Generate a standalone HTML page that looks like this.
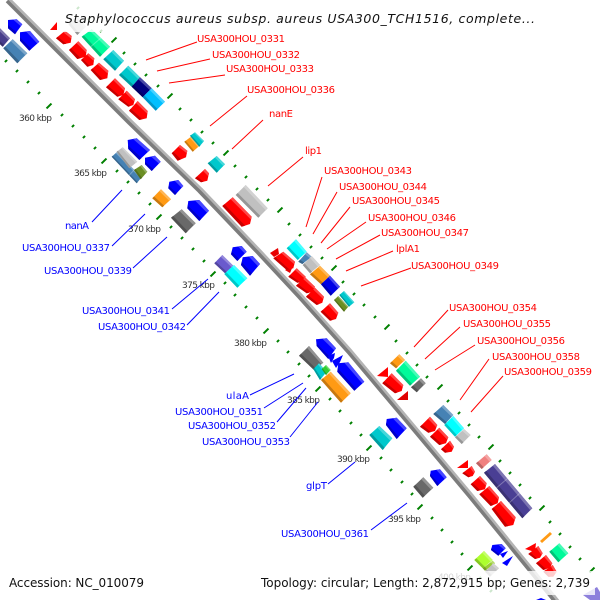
<!DOCTYPE html>
<html><head><meta charset="utf-8"><title>Staphylococcus aureus map</title>
<style>
html,body{margin:0;padding:0;background:#fff}
svg{display:block}
.l{font-family:"DejaVu Sans","Liberation Sans",sans-serif;font-size:10px}
.r{fill:#f00}.b{fill:#00f}
.k{font-family:"DejaVu Sans","Liberation Sans",sans-serif;font-size:9px;fill:#333}
.t{font-family:"DejaVu Sans","Liberation Sans",sans-serif;font-size:12px;fill:#111}
</style></head><body>
<svg id="s" xmlns="http://www.w3.org/2000/svg" width="600" height="600" viewBox="0 0 600 600">
<rect width="600" height="600" fill="#fff"/>
<g fill="none" stroke-linejoin="round">
<polyline points="8,0 70,62 130,122 200,190 260,253 300,296 350,352 403,415 470,495 553,597 565,612" stroke="#b4b4b4" stroke-width="6"/>
<polyline points="7,1 69,63 129,123 199,191 259,254 299,297 349,353 402,416 469,496 552,598 564,613" stroke="#7c7c7c" stroke-width="3.5"/>
</g>
<g id="ticks"></g>
<g id="genes"></g>
<g class="k">
<text x="19" y="121" textLength="33">360 kbp</text>
<text x="74" y="176" textLength="33">365 kbp</text>
<text x="128" y="232" textLength="33">370 kbp</text>
<text x="182" y="288" textLength="33">375 kbp</text>
<text x="234" y="346" textLength="33">380 kbp</text>
<text x="287" y="403" textLength="33">385 kbp</text>
<text x="337" y="462" textLength="33">390 kbp</text>
<text x="388" y="522" textLength="33">395 kbp</text>
<text x="438" y="580" textLength="33">400 kbp</text>
</g>
<g stroke="#f00" stroke-width="1" fill="none">
<path d="M146 60L197 42M157 71L210 59M169 83L225 75M210 126L247 96M232 149L263 120M268 186L303 157M306 227L322 177M313 234L337 192M321 243L350 207M327 249L366 222M336 259L380 235M346 271L393 251M361 286L411 268M414 347L448 310M425 359L460 327M435 370L475 345M460 400L489 359M471 412L503 376"/>
</g>
<g stroke="#00f" stroke-width="1" fill="none">
<path d="M122 190L92 222M145 214L112 246M167 237L133 268M208 279L172 309M219 292L187 325M294 374L250 395M303 383L264 408M306 388L277 422M318 402L290 437M355 462L328 484M407 503L371 530"/>
</g>
<rect x="60" y="5" width="480" height="27" fill="#fff" fill-opacity=".8"/>
<rect x="5" y="572" width="145" height="22" fill="#fff" fill-opacity=".8"/>
<rect x="257" y="571" width="338" height="24" fill="#fff" fill-opacity=".8"/>
<text class="t" x="65" y="23" font-style="italic" style="font-size:12.5px" textLength="470">Staphylococcus aureus subsp. aureus USA300_TCH1516, complete...</text>
<text class="t" x="9" y="587" textLength="135">Accession: NC_010079</text>
<text class="t" x="261" y="587" textLength="329">Topology: circular; Length: 2,872,915 bp; Genes: 2,739</text>
<g class="l r">
<text x="197" y="42" textLength="88">USA300HOU_0331</text>
<text x="212" y="58" textLength="88">USA300HOU_0332</text>
<text x="226" y="72" textLength="88">USA300HOU_0333</text>
<text x="247" y="93" textLength="88">USA300HOU_0336</text>
<text x="269" y="117" textLength="24">nanE</text>
<text x="305" y="154" textLength="17">lip1</text>
<text x="324" y="174" textLength="88">USA300HOU_0343</text>
<text x="339" y="190" textLength="88">USA300HOU_0344</text>
<text x="352" y="204" textLength="88">USA300HOU_0345</text>
<text x="368" y="221" textLength="88">USA300HOU_0346</text>
<text x="381" y="236" textLength="88">USA300HOU_0347</text>
<text x="396" y="252" textLength="24">lplA1</text>
<text x="411" y="269" textLength="88">USA300HOU_0349</text>
<text x="449" y="311" textLength="88">USA300HOU_0354</text>
<text x="463" y="327" textLength="88">USA300HOU_0355</text>
<text x="477" y="344" textLength="88">USA300HOU_0356</text>
<text x="492" y="360" textLength="88">USA300HOU_0358</text>
<text x="504" y="375" textLength="88">USA300HOU_0359</text>
</g>
<g class="l b">
<text x="65" y="229" textLength="24">nanA</text>
<text x="22" y="251" textLength="88">USA300HOU_0337</text>
<text x="44" y="274" textLength="88">USA300HOU_0339</text>
<text x="82" y="314" textLength="88">USA300HOU_0341</text>
<text x="98" y="330" textLength="88">USA300HOU_0342</text>
<text x="226" y="399" textLength="23">ulaA</text>
<text x="175" y="415" textLength="88">USA300HOU_0351</text>
<text x="188" y="429" textLength="88">USA300HOU_0352</text>
<text x="202" y="445" textLength="88">USA300HOU_0353</text>
<text x="306" y="489" textLength="21">glpT</text>
<text x="281" y="537" textLength="88">USA300HOU_0361</text>
</g>
</svg>
<script>
var NS="http://www.w3.org/2000/svg",gg=document.getElementById("genes"),tt=document.getElementById("ticks");
function hex(c){return[parseInt(c.substr(1,2),16),parseInt(c.substr(3,2),16),parseInt(c.substr(5,2),16)]}
function mix(c,m,a){var p=hex(c);return"rgb("+p.map(function(v){return Math.round(v+(m-v)*a)}).join(",")+")"}
function poly(pts,f,par){var e=document.createElementNS(NS,"polygon");e.setAttribute("points",pts.map(function(p){return p[0].toFixed(1)+","+p[1].toFixed(1)}).join(" "));e.setAttribute("fill",f);(par||gg).appendChild(e)}
function lerp(a,b,t){return[a[0]+(b[0]-a[0])*t,a[1]+(b[1]-a[1])*t]}
function pts(ox,oy,v){var r=[];for(var i=0;i<v.length;i+=2)r.push([ox+v[i]/3,oy+v[i+1]/3]);return r}
var K=.2;
/* arrow: tail SW, tail NE, shoulder NE, tip, shoulder SW */
function A(ox,oy,c,v){var p=pts(ox,oy,v);
poly(p,c);
poly([p[1],p[2],lerp(p[2],p[3],.4),lerp(p[1],p[0],K)],mix(c,255,.28));
poly([p[0],p[4],lerp(p[4],p[3],.4),lerp(p[0],p[1],K)],mix(c,0,.22));}
/* box: start SW, start NE, end NE, end SW */
function Q(ox,oy,c,v,splits){var p=pts(ox,oy,v);
poly(p,c);
poly([p[1],p[2],lerp(p[2],p[3],K),lerp(p[1],p[0],K)],mix(c,255,.28));
poly([p[0],p[3],lerp(p[3],p[2],K),lerp(p[0],p[1],K)],mix(c,0,.22));
(splits||[]).forEach(function(f){var a=lerp(p[0],p[3],f),b=lerp(p[1],p[2],f);
var e=document.createElementNS(NS,"line");e.setAttribute("x1",a[0]);e.setAttribute("y1",a[1]);e.setAttribute("x2",b[0]);e.setAttribute("y2",b[1]);e.setAttribute("stroke","rgba(255,255,255,.3)");gg.appendChild(e)});}
var R="#ff0000",B="#0000ff",DT="#00c8cc",O="#ff9a14",SG="#00fa9a",GR="#696969",LG="#c0c0c0",SB="#4682b4",DS="#4a3f94",CY="#00ffff",OL="#6b8e23",SL="#6a5acd";
/* triangles go underneath so neighbouring arrows stay readable */
[
[[50,30],[57,22],[57,30],"#f00"],
[[270,253],[278,248],[279,254],[274,257],"#e80000"],
[[285,270],[293,266],[290,273],"#e80000"],
[[377,376],[388,367],[388,377],"#f00"],
[[397,400],[408,391],[408,400],"#e00000"],
[[457,468],[468,460],[468,468],"#f00"],
[[525,549],[536,543],[535,552],"#f00"],
[[540,541],[550,532],[552,534],[542,543],O],
[[500,554],[508,551],[503,558],B],
[[502,563],[513,556],[507,566],B],
[[536,600],[541,598],[546,600],B],
[[583,595],[597,587],[600,592],[600,600],[590,600],"#8d80dc"]
].forEach(function(a){poly(a.slice(0,-1),a[a.length-1])});
/* zoom region 1 */
Q(0,0,"#483d8b",[-25,110,0,85,30,115,8,140]);
A(0,0,B,[45,103,67,73,50,58,24,60,24,85]);
A(0,0,B,[88,152,118,125,90,93,60,97,60,122]);
Q(0,0,SB,[10,145,38,118,82,160,52,190]);
Q(0,0,LG,[205,72,232,45,258,80,232,105]);
[[168,115,195,92,215,108,212,128,190,133],[207,150,235,124,260,150,257,170,232,177],[243,180,265,160,283,175,280,195,262,200],[272,210,297,188,325,212,322,235,300,240],[318,262,345,235,375,265,370,285,352,290],[355,298,380,272,405,298,400,315,385,320],[387,332,413,303,443,333,440,355,418,360]].forEach(function(v){A(0,0,R,v)});
Q(0,0,SG,[245,110,275,88,330,140,300,170],[.5]);
Q(0,0,DT,[310,178,340,150,372,182,345,212]);
Q(0,0,DT,[357,225,385,197,420,232,395,260]);
Q(0,0,"#000080",[395,260,420,232,455,265,428,292]);
Q(0,0,"#00bfff",[428,292,455,265,495,305,467,332]);
A(0,0,B,[418,480,450,450,410,415,383,420,385,447]);
/* zoom region 2 */
var x=100,y=120;
Q(x,y,SB,[35,110,50,97,125,172,110,190],[.7]);
Q(x,y,LG,[50,95,68,82,112,125,88,145]);
Q(x,y,OL,[102,150,125,135,142,155,122,178]);
A(x,y,B,[155,153,182,125,165,107,135,113,135,133]);
A(x,y,R,[215,100,240,75,262,92,258,112,233,122]);
Q(x,y,O,[253,65,273,50,298,78,278,95]);
Q(x,y,DT,[270,47,285,37,312,63,298,80]);
A(x,y,R,[285,175,315,147,327,160,322,182,303,187]);
Q(x,y,DT,[323,130,350,108,375,133,350,158]);
A(x,y,R,[367,258,398,232,455,290,450,312,425,320]);
Q(x,y,LG,[407,225,437,195,503,265,475,293]);
Q(x,y,O,[157,235,183,208,213,238,187,262]);
A(x,y,B,[225,225,250,198,235,180,208,185,205,205]);
Q(x,y,GR,[213,293,245,268,287,310,257,340]);
A(x,y,B,[298,303,327,272,298,240,265,243,262,265]);
Q(x,y,SL,[343,430,367,405,400,437,375,460]);
A(x,y,B,[412,423,440,395,425,378,398,382,393,403]);
Q(x,y,CY,[373,462,402,435,442,475,412,503]);
A(x,y,B,[450,467,480,432,458,408,428,412,423,435]);
/* zoom region 3 */
x=260;y=220;
[[40,115,70,95,105,125,100,145,80,150],[85,170,110,145,137,170,132,185,112,188],[108,197,135,172,165,200,158,215,140,220],[138,230,165,203,192,230,187,248,170,255],[182,275,210,250,235,278,228,297,210,302],[367,490,395,460,430,495,425,513,405,520]].forEach(function(v){A(x,y,R,v)});
Q(x,y,CY,[80,85,108,58,140,95,113,120]);
Q(x,y,SB,[115,125,140,97,155,110,127,132]);
Q(x,y,LG,[128,135,155,108,180,135,150,160]);
Q(x,y,O,[150,163,180,137,210,167,183,193]);
Q(x,y,"#0000e6",[183,193,210,167,240,200,212,227]);
Q(x,y,OL,[222,240,235,228,265,260,252,275]);
Q(x,y,DT,[238,225,252,213,283,247,267,260]);
Q(x,y,GR,[117,407,147,378,190,428,162,450]);
Q(x,y,DT,[160,447,177,430,200,455,180,480]);
Q(x,y,O,[183,480,212,455,272,520,243,548]);
Q(x,y,"#32cd32",[185,447,198,435,212,450,198,465]);
A(x,y,B,[283,512,313,485,265,427,235,430,232,455]);
A(x,y,B,[205,417,228,385,200,355,168,358,170,378]);
poly([[328,356],[335,353],[334,358],[331,363]],B);
poly([[332,361],[343,355],[340,362],[336,368]],B);
Q(x,y,O,[390,430,418,403,435,420,408,445]);
Q(x,y,SG,[408,452,437,422,480,470,450,497]);
Q(x,y,GR,[453,502,483,475,497,490,470,517]);
/* zoom region 4 */
Q(290,330,DT,[238,315,268,288,307,325,278,360]);
A(290,330,B,[320,327,350,295,320,263,290,267,288,285]);
/* zoom region 5 */
x=400;y=400;
Q(x,y,SB,[100,42,130,15,160,45,135,72]);
Q(x,y,CY,[133,75,160,48,192,85,165,110]);
Q(x,y,LG,[165,112,192,87,212,105,185,132]);
[[60,80,90,50,112,75,105,93,85,98],[90,110,118,83,145,112,138,130,118,135],[123,148,150,122,162,140,155,155,135,158],[187,220,215,198,225,215,218,228,205,232],[212,253,240,228,260,250,255,268,232,273],[238,283,268,258,297,292,293,310,272,318],[275,327,303,303,347,352,340,375,315,380],[385,462,415,438,428,460,420,473,405,477],[408,490,438,465,457,490,450,503,430,510],[430,515,458,495,470,515,460,530,445,530]].forEach(function(v){A(x,y,R,v)});
Q(x,y,"#f08080",[228,190,260,163,275,180,245,207]);
Q(x,y,DS,[252,218,285,192,397,325,367,355],[.33,.66]);
Q(x,y,GR,[40,260,70,232,100,263,68,293]);
A(x,y,B,[112,258,140,232,120,208,92,212,90,228]);
Q(x,y,SG,[448,455,478,430,505,460,475,487]);
A(x,y,B,[295,467,317,445,305,432,277,435,273,450]);
Q(x,y,"#adff2f",[223,480,252,453,278,480,248,505]);
Q(x,y,"#9acd32",[248,505,278,482,285,490,255,512]);
Q(x,y,LG,[255,515,280,490,297,505,270,530]);
function T(x,y,len){var e=document.createElementNS(NS,"line"),d=len/2*.707;e.setAttribute("x1",x-d);e.setAttribute("y1",y+d);e.setAttribute("x2",x+d);e.setAttribute("y2",y-d);e.setAttribute("stroke","#008000");e.setAttribute("stroke-width",2);tt.appendChild(e)}
[[6,61],[17,71],[28,82],[39,93],[62,115],[73,126],[84,137],[95,148],[117,171],[128,182],[139,193],[150,204],[171,227],[182,238],[193,249],[204,261],[225,283],[235,295],[246,307],[257,318],[278,341],[288,352],[299,364],[309,376],[330,399],[340,411],[351,423],[361,435],[381,458],[391,470],[402,482],[412,494],[432,518],[442,530],[452,542],[462,554],[480,578],[491,591],
[78,8],[89,19],[101,31],[124,53],[135,64],[146,75],[158,86],[180,109],[191,120],[202,132],[213,143],[235,166],[246,177],[257,189],[268,200],[289,224],[300,235],[311,247],[322,258],[343,282],[354,294],[364,305],[375,317],[396,341],[407,353],[417,365],[427,377],[448,401],[459,413],[469,425],[479,437],[500,461],[510,473],[520,485],[530,498],[550,522],[560,534],[570,547],[580,559]
].forEach(function(p){T(p[0],p[1],3)});
[[49,106],[104,161],[159,217],[213,274],[266,331],[318,389],[369,448],[420,507],[470,568],
[114,40],[170,96],[226,153],[280,210],[334,268],[387,327],[440,387],[491,447],[542,508],[592,570]
].forEach(function(p){T(p[0],p[1],7)});
</script>
</body></html>
